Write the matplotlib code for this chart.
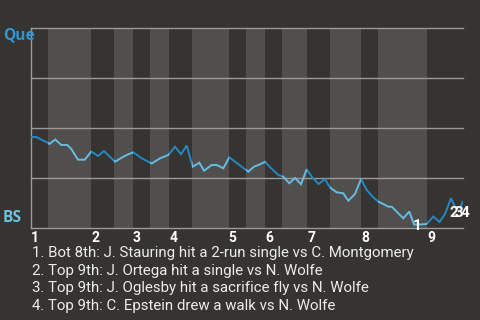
import matplotlib
matplotlib.use("Agg")
import matplotlib.pyplot as plt
from matplotlib.patches import Rectangle

# ---- data ----
plays = [0.0, 0.93, 2.11, 2.9, 3.25, 4.28, 5.33, 6.39, 7.09, 8.27, 9.45, 10.61,
         11.79, 12.84, 14.78, 16.24, 17.12, 18.0, 19.48, 21.24, 22.7, 24.16,
         25.33, 26.39, 27.39, 28.45, 29.61, 30.44, 31.79, 32.67, 33.83, 34.89,
         35.89, 37.07, 38.23, 39.23, 40.29, 41.17, 42.05, 43.51, 44.39, 45.44,
         46.45, 47.5, 48.5, 49.38, 50.58, 51.72, 52.6, 53.78, 54.94, 55.82,
         57.0, 58.06, 59.06, 60.22, 61.1, 61.98, 62.86, 63.46, 64.92, 65.5,
         66.56, 67.38, 68.44, 69.62, 70.78, 71.87, 72.84, 73.89, 74.6, 75.48, 76.0]
win_prob = [0.455, 0.455, 0.4375, 0.4275, 0.42, 0.4425, 0.415, 0.415, 0.395,
            0.3415, 0.3415, 0.3825, 0.36, 0.385, 0.3315, 0.3565, 0.3685, 0.3785,
            0.3485, 0.3225, 0.3485, 0.365, 0.4065, 0.3685, 0.4125, 0.3065,
            0.3265, 0.2865, 0.315, 0.315, 0.2985, 0.3535, 0.3315, 0.3065,
            0.2815, 0.3065, 0.3185, 0.3315, 0.3035, 0.265, 0.2565, 0.2235,
            0.25, 0.219, 0.2935, 0.2565, 0.22, 0.244, 0.2025, 0.1785, 0.1735,
            0.1365, 0.17, 0.245, 0.19, 0.1535, 0.1315, 0.12, 0.1065, 0.1065,
            0.065, 0.0485, 0.0825, 0.0175, 0.0175, 0.02, 0.0575, 0.03, 0.07,
            0.1485, 0.1065, 0.1015, 0.1325]

# half-inning boundaries (in plays): top1, bot1, top2, bot2, ... top9, end
half_bounds = [0, 3.0, 10.6, 14.6, 17.95, 20.9, 24.3, 28.3, 34.8, 37.8, 41.2,
               44.2, 48.6, 52.6, 58.1, 61.1, 69.7, 76.0]
innings = ["1", "2", "3", "4", "5", "6", "7", "8", "9"]

team_top = "Que"
team_bottom = "BS"

event_marks = ["1", "2", "3", "4"]
event_x = [68.0, 74.4, 75.3, 76.35]
event_y = [0.01, 0.077, 0.077, 0.077]
event_text = [
    "1. Bot 8th: J. Stauring hit a 2-run single vs C. Montgomery",
    "2. Top 9th: J. Ortega hit a single vs N. Wolfe",
    "3. Top 9th: J. Oglesby hit a sacrifice fly vs N. Wolfe",
    "4. Top 9th: C. Epstein drew a walk vs N. Wolfe",
]

# ---- style ----
BG = "#363430"
BAND = "#504f4d"
GRID = "#9a9a9a"
DARK_BLUE = "#2488c4"
LIGHT_BLUE = "#66bce2"
TXT = "#ececec"

plt.rcParams["font.family"] = ["Roboto", "DejaVu Sans"]

fig = plt.figure(figsize=(4.8, 3.2), dpi=100, facecolor=BG)
ax = fig.add_axes([31 / 480, 92 / 320, 432 / 480, 200 / 320])
ax.set_facecolor(BG)
ax.set_xlim(half_bounds[0], half_bounds[-1])
ax.set_ylim(0, 1)

# bands (bottom halves shaded)
for i in range(len(half_bounds) - 1):
    if i % 2 == 1:
        ax.axvspan(half_bounds[i], half_bounds[i + 1], color=BAND, lw=0, zorder=0)

# gridlines
for yv in [0.25, 0.5, 0.75, 1.0]:
    ax.axhline(yv, color=GRID, lw=1.0, zorder=1, clip_on=False)

for s in ["top", "right"]:
    ax.spines[s].set_visible(False)
for s in ["left", "bottom"]:
    ax.spines[s].set_color(GRID)
    ax.spines[s].set_linewidth(1.0)

# win probability line, coloured by half inning
for i in range(len(half_bounds) - 1):
    col = DARK_BLUE if i % 2 == 0 else LIGHT_BLUE
    (ln,) = ax.plot(plays, win_prob, color=col, lw=1.4, zorder=3,
                    solid_joinstyle="miter")
    rect = Rectangle((half_bounds[i], -0.1), half_bounds[i + 1] - half_bounds[i], 1.2,
                     transform=ax.transData)
    ln.set_clip_path(rect)

# inning labels
inning_starts = half_bounds[0:-1:2]
ax.set_xticks(inning_starts)
ax.set_xticklabels(innings, ha="left", color="white", fontsize=10, fontweight="bold")
ax.tick_params(axis="x", length=0, pad=2)
ax.set_yticks([])

# team labels
fig.text(3 / 480, 1 - 27 / 320, team_top, color="#2f96cf", fontsize=11.2,
         fontweight="bold", family=["Open Sans", "DejaVu Sans"], ha="left", va="top")
fig.text(3 / 480, 1 - 226 / 320, team_bottom, color="#6ec0e0", fontsize=11.2,
         fontweight="bold", family=["Open Sans", "DejaVu Sans"], ha="left", va="bottom")

# event markers
for m, ex, ey in zip(event_marks, event_x, event_y):
    ax.text(ex, ey, m, color="white", fontsize=11, fontweight="bold",
            ha="center", va="center", zorder=5, clip_on=False)

# event legend
for k, t in enumerate(event_text):
    fig.text(32 / 480, 1 - (253 + 17.6 * k) / 320, t, color=TXT, fontsize=10.8,
             ha="left", va="center")

fig.savefig("out.png", dpi=100, facecolor=BG)
